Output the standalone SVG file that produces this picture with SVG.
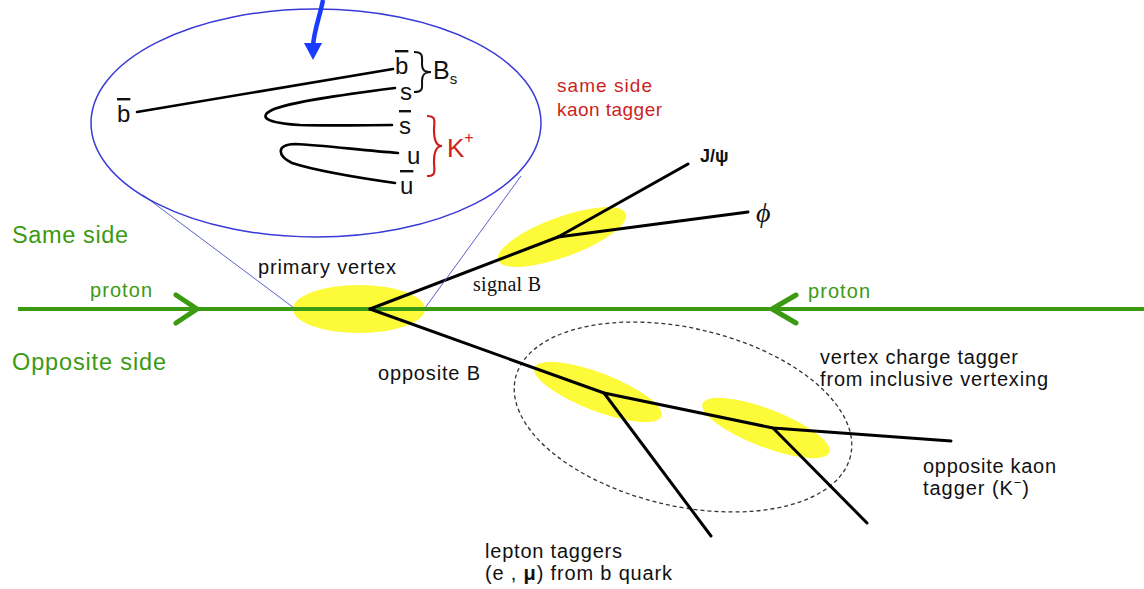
<svg xmlns="http://www.w3.org/2000/svg" width="1144" height="589" viewBox="0 0 1144 589">
  <style>
    .sans { font-family: "Liberation Sans", Arial, sans-serif; }
    .serif { font-family: "Liberation Serif", "Times New Roman", serif; }
    .lbl { font-size: 20px; fill: #111; }
    .green { fill: #3c9a12; }
    .red { fill: #cc1f1f; }
    .quark { font-size: 24px; fill: #111; }
    .bar { text-decoration: overline; }
    .track { fill: none; stroke: #000; stroke-width: 3; stroke-linecap: round; stroke-linejoin: round; }
    .blob { fill: #fdfa3a; }
    .beam { fill: none; stroke: #3c9a12; stroke-width: 4; }
    .chev { fill: none; stroke: #3c9a12; stroke-width: 5; stroke-linecap: round; stroke-linejoin: miter; }
    .funnel { stroke: #5a62c8; stroke-width: 1; fill: none; }
    .qline { fill: none; stroke: #000; stroke-width: 2.6; stroke-linecap: round; }
  </style>

  <!-- vertex regions (under the tracks) -->
  <g id="primary-vertex">
    <ellipse class="blob" cx="359" cy="309" rx="66" ry="24"/>
    <text class="sans lbl" x="258" y="274" textLength="138" lengthAdjust="spacing">primary vertex</text>
  </g>
  <g id="signal-b">
    <ellipse class="blob" cx="562" cy="237" rx="68" ry="20" transform="rotate(-20 562 237)"/>
    <text class="serif lbl" x="473" y="291" font-size="19.5" textLength="68" lengthAdjust="spacing">signal B</text>
  </g>
  <g id="opposite-vertex-1">
    <ellipse class="blob" cx="598" cy="392" rx="68" ry="19" transform="rotate(21 598 392)"/>
  </g>
  <g id="opposite-vertex-2">
    <ellipse class="blob" cx="766" cy="428" rx="68" ry="19" transform="rotate(21 766 428)"/>
  </g>
  <g id="vertex-charge-region">
    <ellipse cx="683" cy="417" rx="172" ry="89" transform="rotate(13 683 417)" fill="none" stroke="#333" stroke-width="1.3" stroke-dasharray="4 3"/>
    <text class="sans lbl" x="820" y="364" textLength="198" lengthAdjust="spacing">vertex charge tagger</text>
    <text class="sans lbl" x="820" y="386" textLength="228" lengthAdjust="spacing">from inclusive vertexing</text>
  </g>

  <!-- proton beams -->
  <g id="beam">
    <line class="beam" x1="18" y1="309" x2="1144" y2="309"/>
    <polyline class="chev" points="176,295 197,309 176,323"/>
    <polyline class="chev" points="796,295 772,309 796,323"/>
    <text class="sans green" x="90" y="297" font-size="20" textLength="62" lengthAdjust="spacing">proton</text>
    <text class="sans green" x="808" y="298" font-size="20" textLength="62" lengthAdjust="spacing">proton</text>
  </g>

  <g id="side-labels">
    <text class="sans green" x="12" y="243" font-size="23.5" textLength="116" lengthAdjust="spacing">Same side</text>
    <text class="sans green" x="12" y="370" font-size="23.5" textLength="154" lengthAdjust="spacing">Opposite side</text>
  </g>

  <!-- particle tracks -->
  <g id="connectors">
    <polyline class="track" points="370,309 558,237 688,164"/>
    <line class="track" x1="558" y1="237" x2="748" y2="212"/>
    <polyline class="track" points="370,309 604,393 773,428 951,441"/>
    <line class="track" x1="604" y1="393" x2="711" y2="536"/>
    <line class="track" x1="773" y1="428" x2="867" y2="523"/>
  </g>

  <g id="signal-products">
    <text class="sans" x="700" y="162" font-size="18" font-weight="bold" fill="#111">J/ψ</text>
    <text class="serif" x="756" y="222" font-size="28" font-style="italic" fill="#111">ϕ</text>
  </g>

  <g id="opposite-b">
    <text class="sans lbl" x="378" y="380" textLength="102" lengthAdjust="spacing">opposite B</text>
  </g>
  <g id="opposite-kaon">
    <text class="sans lbl" x="923" y="473" textLength="133" lengthAdjust="spacing">opposite kaon</text>
    <text class="sans lbl" x="923" y="495" textLength="106" lengthAdjust="spacing">tagger (K<tspan font-size="13" dy="-8">−</tspan><tspan dy="8">)</tspan></text>
  </g>
  <g id="lepton-taggers">
    <text class="sans lbl" x="485" y="558" textLength="137" lengthAdjust="spacing">lepton taggers</text>
    <text class="sans lbl" x="485" y="580" textLength="187" lengthAdjust="spacing">(e , <tspan font-weight="bold">μ</tspan>) from b quark</text>
  </g>

  <!-- magnified view of the primary vertex -->
  <g id="inset">
    <line class="funnel" x1="143" y1="195" x2="294" y2="308"/>
    <line class="funnel" x1="521" y1="176" x2="425" y2="308"/>
    <ellipse cx="316" cy="123" rx="225" ry="114" fill="none" stroke="#3a3ad8" stroke-width="1.5"/>
    <path d="M323,0 C320,16 314,30 313,46" fill="none" stroke="#1a3cff" stroke-width="4.5"/>
    <polygon points="304,43 322,43 313,60" fill="#1a3cff"/>

    <line class="qline" x1="137" y1="112" x2="393" y2="69"/>
    <path class="qline" d="M395,88 C340,95 290,102 272,110 C258,117 266,123 300,125 C330,126 370,125 392,125"/>
    <path class="qline" d="M398,153 C360,150 320,145 295,144 C275,145 278,156 292,163 C320,172 360,178 395,183"/>

    <text class="sans quark bar" x="117" y="122">b</text>
    <text class="sans quark bar" x="395" y="74">b</text>
    <text class="sans quark" x="400" y="100">s</text>
    <text class="sans quark bar" x="399" y="134">s</text>
    <text class="sans quark" x="407" y="164">u</text>
    <text class="sans quark bar" x="400" y="194">u</text>

    <path d="M414,52 C424,52 422,58 422,64 C422,70 424,72 431,72 C424,72 422,75 422,81 C422,87 424,92 414,92" fill="none" stroke="#111" stroke-width="2"/>
    <text class="sans" x="433" y="79" font-size="25" fill="#111">B<tspan font-size="15" dy="5">s</tspan></text>

    <path d="M427,116 C437,116 434,122 434,130 C434,140 436,146 442,146 C436,146 434,152 434,162 C434,170 437,176 427,176" fill="none" stroke="#cc1f1f" stroke-width="2.2"/>
    <text class="sans red" x="447" y="157" font-size="26">K<tspan font-size="16" dy="-14">+</tspan></text>

    <text class="sans red" x="557" y="92" font-size="19" textLength="95" lengthAdjust="spacing">same side</text>
    <text class="sans red" x="557" y="116" font-size="19" textLength="105" lengthAdjust="spacing">kaon tagger</text>
  </g>
</svg>
